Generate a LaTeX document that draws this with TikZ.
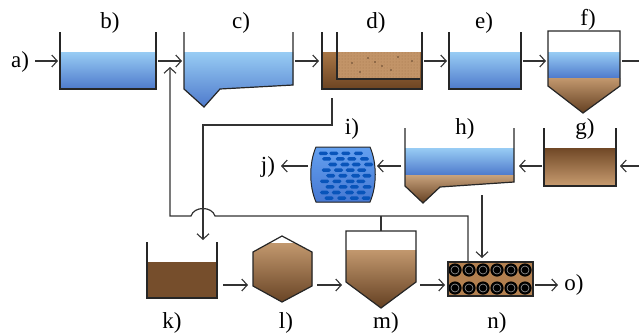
\documentclass[tikz,border=0pt]{standalone}
\usepackage{fontspec}
\setmainfont{Liberation Serif}
\usetikzlibrary{arrows.meta,patterns}
\definecolor{wtop}{RGB}{152,204,244}
\definecolor{wbot}{RGB}{78,122,204}
\definecolor{dtop}{RGB}{168,118,70}
\definecolor{dbot}{RGB}{108,68,34}
\definecolor{dinner}{RGB}{194,148,104}
\definecolor{ddot}{RGB}{160,114,74}
\definecolor{gtop}{RGB}{112,72,38}
\definecolor{gbot}{RGB}{200,156,112}
\definecolor{kfill}{RGB}{118,78,44}
\definecolor{stop}{RGB}{194,152,110}
\definecolor{sbot}{RGB}{100,64,34}
\definecolor{nfill}{RGB}{178,128,80}
\definecolor{btop}{RGB}{100,160,240}
\definecolor{bbot}{RGB}{70,120,210}
\definecolor{bdash}{RGB}{8,84,186}
\definecolor{pipec}{RGB}{50,50,50}
\begin{document}
\begin{tikzpicture}[x=1pt,y=-1pt,
  wall/.style={draw=black!85,line width=1.2pt,line join=miter},
  pipe/.style={draw=pipec,line width=1.2pt},
  flow/.style={pipe,-{Straight Barb[length=5.5pt,width=12pt,line width=1.1pt]}},
  lbl/.style={font=\fontsize{23}{23}\selectfont,anchor=base,inner sep=0pt},
  water/.style={top color=wtop,bottom color=wbot},
  sludge/.style={top color=stop,bottom color=sbot}]
\useasboundingbox (0,0) rectangle (639,335);

% ---------- labels ----------
\node[lbl] (la) at (20,67) {a)};
\node[lbl] (lb) at (110,28) {b)};
\node[lbl] (lc) at (241,28) {c)};
\node[lbl] (ld) at (376,28) {d)};
\node[lbl] (le) at (484,28) {e)};
\node[lbl] (lf) at (588,25) {f)};
\node[lbl] (lg) at (585,134) {g)};
\node[lbl] (lh) at (465,134) {h)};
\node[lbl] (li) at (352,134) {i)};
\node[lbl] (lj) at (268,172) {j)};
\node[lbl] (lk) at (172,328) {k)};
\node[lbl] (ll) at (286,328) {l)};
\node[lbl] (lm) at (386,328) {m)};
\node[lbl] (ln) at (497,328) {n)};
\node[lbl] (lo) at (574,290) {o)};

% ---------- b ----------
\fill[water] (60,52) rectangle (156,89);
\draw[wall] (60,32) -- (60,89) -- (156,89) -- (156,32);

% ---------- c ----------
\fill[water] (184,52) -- (184,89) -- (204,107) -- (220,89) -- (293,85) -- (293,52) -- cycle;
\draw[wall] (184,32) -- (184,89) -- (204,107) -- (220,89) -- (293,85) -- (293,32);

% ---------- d ----------
\fill[top color=dtop,bottom color=dbot] (322,52) rectangle (422,89);
\fill[dinner] (337,52) rectangle (420,79);
\fill[pattern=dots,pattern color=ddot] (337,52) rectangle (420,79);
\foreach \p in {(352,63),(368,58),(382,66),(398,57),(412,61),(360,72),(391,70),(375,62)}
  \fill[ddot!60!black] \p circle (0.8pt);
\draw[wall] (322,32) -- (322,89) -- (422,89) -- (422,32);
\draw[wall] (337,32) -- (337,79) -- (420,79);

% ---------- e ----------
\fill[water] (449,52) rectangle (521,89);
\draw[wall] (449,32) -- (449,89) -- (521,89) -- (521,32);

% ---------- f ----------
\fill[water] (548,52) rectangle (620,78);
\fill[sludge] (548,78) -- (620,78) -- (620,86) -- (583,113) -- (548,86) -- cycle;
\draw[wall] (548,31) -- (620,31) -- (620,86) -- (583,113) -- (548,86) -- cycle;

% ---------- g ----------
\fill[top color=gtop,bottom color=gbot] (544,148) rectangle (616,186);
\draw[wall] (544,128) -- (544,186) -- (616,186) -- (616,128);

% ---------- h ----------
\fill[water] (405,148) rectangle (514,175);
\fill[top color=stop!90!white,bottom color=sbot] (405,175) -- (405,186) -- (423,203) -- (440,187) -- (514,182) -- (514,175) -- cycle;
\draw[wall] (405,128) -- (405,186) -- (423,203) -- (440,187) -- (514,182) -- (514,128);

% ---------- i (barrel) ----------
\fill[top color=btop,bottom color=bbot] (316,147) -- (370,147) .. controls (377,163) and (377,186) .. (370,202) -- (316,202) .. controls (309,186) and (309,163) .. (316,147) -- cycle;
\pgfmathsetseed{7}
\foreach \r in {0,...,8} {
  \foreach \c in {0,...,3} {
    \pgfmathsetmacro\xx{317 + mod(\r*5,11) + \c*12 + rnd*2}
    \pgfmathsetmacro\yy{151.5 + \r*5.6}
    \fill[bdash,rounded corners=1.6pt] (\xx,\yy) rectangle ++(9,3.6);
  }
}
\draw[wall,line width=1pt] (316,147) -- (370,147) .. controls (377,163) and (377,186) .. (370,202) -- (316,202) .. controls (309,186) and (309,163) .. (316,147) -- cycle;

% ---------- k ----------
\fill[kfill] (147,262) rectangle (217,298);
\draw[wall] (147,242) -- (147,298) -- (217,298) -- (217,242);

% ---------- l (hexagon) ----------
\begin{scope}
  \clip (282,236) -- (312,252) -- (312,286) -- (282,302) -- (253,286) -- (253,252) -- cycle;
  \fill[white] (250,230) rectangle (315,243);
  \fill[sludge] (250,243) rectangle (315,305);
\end{scope}
\draw[wall] (282,236) -- (312,252) -- (312,286) -- (282,302) -- (253,286) -- (253,252) -- cycle;

% ---------- m ----------
\fill[sludge] (346,250) -- (416,250) -- (416,282) -- (381,308) -- (346,282) -- cycle;
\draw[wall] (346,231) -- (416,231) -- (416,282) -- (381,308) -- (346,282) -- cycle;

% ---------- n ----------
\fill[nfill] (448,262) rectangle (533,296);
\foreach \x in {455,469,483,497,511,525} {
  \foreach \y in {270,288} {
    \fill[black] (\x,\y) circle (6.6pt);
    \draw[gray!75,line width=0.6pt] (\x,\y) circle (4pt);
  }
}
\draw[wall] (448,262) rectangle (533,296);

% ---------- connector coordinates ----------
\coordinate (aOut) at (35,61);
\coordinate (bIn) at (58,61);   \coordinate (bOut) at (158,61);
\coordinate (cIn) at (182,61);  \coordinate (cOut) at (295,61);
\coordinate (dIn) at (319,61);  \coordinate (dOut) at (424,61);
\coordinate (eIn) at (447,61);  \coordinate (eOut) at (523,61);
\coordinate (fIn) at (546,61);  \coordinate (fOut) at (622,61);
\coordinate (edgeA) at (639,61);
\coordinate (edgeB) at (639,166);
\coordinate (gIn) at (620,166); \coordinate (gOut) at (542,166);
\coordinate (hIn) at (519,166); \coordinate (hOut) at (401,166);
\coordinate (iIn) at (377,166); \coordinate (iOut) at (308,166);
\coordinate (jIn) at (281,166);
\coordinate (dBot) at (332,98);  \coordinate (dBend1) at (332,125);
\coordinate (dBend2) at (203,125); \coordinate (kTop) at (203,240);
\coordinate (hBot) at (482,195); \coordinate (nTopB) at (482,258);
\coordinate (nTopA) at (468,262); \coordinate (rBend) at (468,216);
\coordinate (mTop) at (381,231); \coordinate (mJoin) at (381,216);
\coordinate (hopR) at (215,216); \coordinate (hopL) at (191,216);
\coordinate (rCorner) at (170,216); \coordinate (rEnd) at (170,67);
\coordinate (kOut) at (223,285); \coordinate (lIn) at (248,285);
\coordinate (lOut) at (317,285); \coordinate (mIn) at (342,285);
\coordinate (mOut) at (420,285); \coordinate (nIn) at (445,285);
\coordinate (nOut) at (535,285); \coordinate (oIn) at (558,285);

% ---------- connectors ----------
\draw[flow] (aOut) -- (bIn);
\draw[flow] (bOut) -- (cIn);
\draw[flow] (cOut) -- (dIn);
\draw[flow] (dOut) -- (eIn);
\draw[flow] (eOut) -- (fIn);
\draw[pipe] (fOut) -- (edgeA);
\draw[flow] (edgeB) -- (gIn);
\draw[flow] (gOut) -- (hIn);
\draw[flow] (hOut) -- (iIn);
\draw[flow] (iOut) -- (jIn);
\draw[flow] (dBot) -- (dBend1) -- (dBend2) -- (kTop);
\draw[flow] (hBot) -- (nTopB);
\draw[flow] (nTopA) -- (rBend) -- (hopR) .. controls (212,206) and (194,206) .. (hopL) -- (rCorner) -- (rEnd);
\draw[pipe] (mTop) -- (mJoin);
\draw[flow] (kOut) -- (lIn);
\draw[flow] (lOut) -- (mIn);
\draw[flow] (mOut) -- (nIn);
\draw[flow] (nOut) -- (oIn);
\end{tikzpicture}
\end{document}
